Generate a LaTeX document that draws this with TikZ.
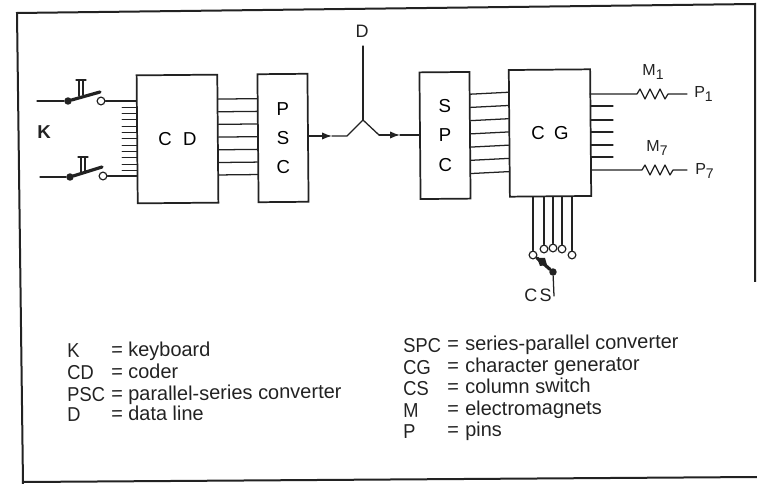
\documentclass[tikz,border=0pt]{standalone}
\usepackage{fontspec}
\setmainfont{Liberation Sans}
\newfontfamily\capsfont[FakeStretch=0.92]{Liberation Sans}
\usetikzlibrary{calc,arrows.meta}
\definecolor{ink}{HTML}{222222}
\tikzset{
  wire/.style={draw=ink,line width=0.95pt,line cap=round},
  framer/.style={draw=ink,line width=1.5pt},
  blade/.style={draw=ink,line width=2.4pt,line cap=round},
  blockbox/.style={draw=ink,line width=1.3pt,rectangle,inner sep=0pt,align=center,font=\fontsize{14pt}{17pt}\selectfont,rotate=0.5},
  contact/.style={draw=ink,line width=0.9pt,fill=white,circle,inner sep=0pt,minimum size=5.8pt},
  pivot/.style={fill=ink,circle,inner sep=0pt,minimum size=5.6pt},
  lbl/.style={text=ink,inner sep=0pt,font=\fontsize{13.5pt}{15pt}\selectfont},
  pinlbl/.style={lbl,font=\fontsize{12pt}{14pt}\selectfont},
  legend/.style={lbl,anchor=base west,rotate=0.8,font=\fontsize{15pt}{17pt}\selectfont\capsfont},
  legendword/.style={lbl,anchor=base west,rotate=0.8,font=\fontsize{15pt}{17pt}\selectfont},
  flow/.style={wire,-{Latex[length=7.5pt,width=5.5pt]}}
}
\newcommand{\zigzag}{-- ++(3,-5) -- ++(5,10) -- ++(5,-10) -- ++(5,10) -- ++(5,-10) -- ++(5,10) -- ++(3,-5)}
\newcommand{\lowered}[1]{\raisebox{-2.5pt}{\fontsize{10.5pt}{11pt}\selectfont #1}}
\begin{document}
\begin{tikzpicture}[x=0.75pt,y=-0.75pt]
\useasboundingbox (0,0) rectangle (757,484);
% frame
\coordinate (f1) at (755,282);
\coordinate (f2) at (755,4);
\coordinate (f3) at (17,13);
\coordinate (f4) at (23,484);
\coordinate (f5) at (24,482);
\coordinate (f6) at (757,477);
\draw[framer] (f1) -- (f2) -- (f3) -- (f4);
\draw[framer] (f5) -- (f6);
% blocks
\node[blockbox,minimum width=60.5pt,minimum height=96pt] (cd) at (177.5,139) {C\hspace{0.6em}D};
\node[blockbox,minimum width=37.5pt,minimum height=96pt] (psc) at (283,138) {P\\[5pt]S\\[5pt]C};
\node[blockbox,minimum width=37.5pt,minimum height=95pt] (spc) at (445,135.5) {S\\[5pt]P\\[5pt]C};
\node[blockbox,minimum width=61pt,minimum height=95pt] (cg) at (550,133) {C\hspace{0.5em}G};
% links between blocks
\foreach \f in {0.195,0.293,0.39,0.488,0.586,0.684,0.78}
  \draw[wire] ($(cd.north east)!\f!(cd.south east)$) -- ($(psc.north west)!\f!(psc.south west)$);
\foreach \f in {0.18,0.283,0.386,0.489,0.592,0.695,0.798}
  \draw[wire] ($(spc.north east)!\f!(spc.south east)$) -- ($(cg.north west)!\f!(cg.south west)$);
% keyboard
\node[lbl,font=\fontsize{14pt}{15pt}\selectfont\bfseries] (k) at (44,132) {K};
\node[pivot] (d1) at (68,101) {};
\node[contact] (c1) at (101,101) {};
\coordinate (in1) at (37,101);
\coordinate (b1) at (100,92);
\draw[wire] (in1) -- (d1);
\draw[blade] (d1) -- (b1);
\draw[wire] (c1) -- (cd.west |- c1);
\draw[wire] (79,96) -- (79,80) (83,95) -- (83,80) (76,80) -- (86,80);
\node[pivot] (d2) at (70,177) {};
\node[contact] (c2) at (103,176) {};
\coordinate (in2) at (40,177);
\coordinate (b2) at (102,167);
\draw[wire] (in2) -- (d2);
\draw[blade] (d2) -- (b2);
\draw[wire] (c2) -- (137,176);
\draw[wire] (81,172) -- (81,157) (85,171) -- (85,157) (78,157) -- (88,157);
\foreach \y in {107.3,113.6,119.9,126.2,132.5,138.8,145.1,151.4,157.7,164,170.3}
  \draw[wire,line width=.65pt] (122,\y) -- (137,\y);
% data line
\node[lbl] (d) at (362,31) {D};
\coordinate (j) at (363,120);
\coordinate (j1) at (347,136);
\coordinate (j2) at (379,135);
\coordinate (a1) at (332,136);
\coordinate (a2) at (400,135);
\draw[wire] (363,46) -- (j);
\draw[flow] (psc.east |- a1) -- (a1);
\draw[wire] (a1) -- (j1) -- (j) -- (j2);
\draw[flow] (j2) -- (a2);
\draw[wire] (a2) -- (spc.west |- a2);
% outputs
\foreach \y in {106,120,132,145,157}
  \draw[wire] (590.5,\y) -- (613,\y);
\node[pinlbl] (m1) at (653,72) {M\lowered{1}};
\node[pinlbl,anchor=west] (p1) at (694,94) {P\lowered{1}};
\node[pinlbl] (m7) at (657,148) {M\lowered{7}};
\node[pinlbl,anchor=west] (p7) at (695,171) {P\lowered{7}};
\coordinate (p1in) at (687,94);
\coordinate (p7in) at (687,170);
\draw[wire,line join=round] (590,94) -- (637,94) \zigzag -- (p1in);
\draw[wire,line join=round] (591,170) -- (642,170) \zigzag -- (p7in);
% column switch
\foreach \n/\x/\y in {a/533/255,b/544/249,c/553/248,d/562/249,e/572/255}{
  \node[contact] (cs\n) at (\x,\y) {};
  \draw[wire] (cs\n) -- (\x,197);
}
\node[pivot] (csp) at (553,272) {};
\node[lbl] (cs) at (538,295) {C\hspace{0.12em}S};
\coordinate (csb) at (537,258);
\coordinate (cse) at (554,296);
\draw[blade] (csb) -- (csp);
\fill[ink] (537,258) -- (545,258) -- (547,265) -- (540,266) -- cycle;
\draw[wire] (csp) -- (cse);
% legend left
\foreach \n/\a/\t/\yy in {K/K/keyboard/357,C/CD/coder/379,S/PSC/parallel-series converter/401,L/D/data line/421}{
  \node[legend] (l\n a) at (67,\yy+1) {\a};
  \node[legendword] (l\n e) at (111,\yy) {=};
  \node[legendword] (l\n t) at (128,\yy) {\t};
}
% legend right
\foreach \n/\a/\t/\yy in {A/SPC/series-parallel converter/351,B/CG/character generator/373,E/CS/column switch/394,F/M/electromagnets/416,G/P/pins/437}{
  \node[legend] (r\n a) at (403,\yy+2) {\a};
  \node[legendword] (r\n e) at (447,\yy) {=};
  \node[legendword] (r\n t) at (465,\yy) {\t};
}
\end{tikzpicture}
\end{document}
